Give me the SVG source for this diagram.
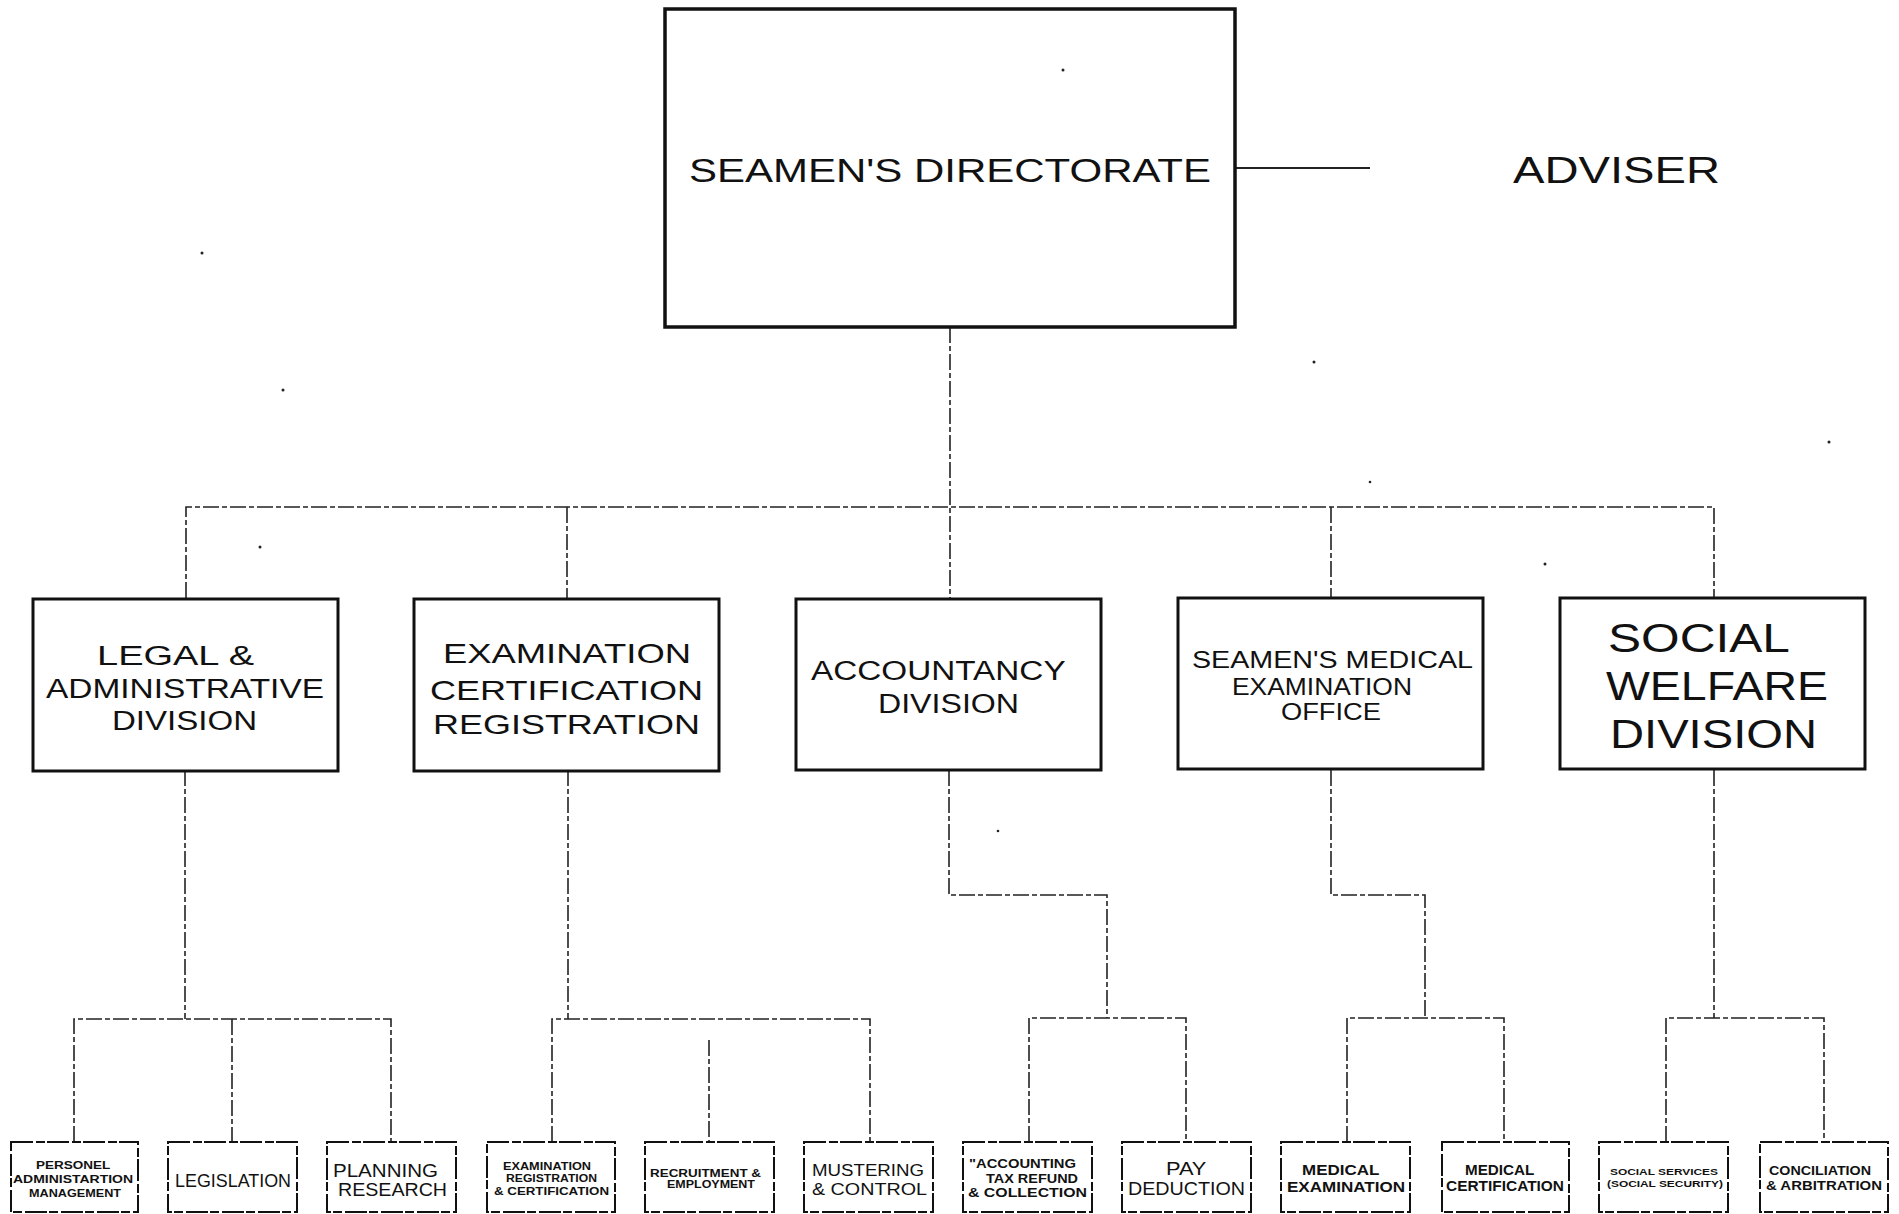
<svg xmlns="http://www.w3.org/2000/svg" width="1899" height="1214" viewBox="0 0 1899 1214">
<style>
.bg{fill:#fff}
.top{fill:none;stroke:#111;stroke-width:3.5}
.mid{fill:none;stroke:#111;stroke-width:3}
.bot{fill:none;stroke:#111;stroke-width:2;stroke-dasharray:22 3 9 2}
.con{fill:none;stroke:#222;stroke-width:1.6;stroke-dasharray:16 3 5 3}
.t{font-family:"Liberation Sans","DejaVu Sans",sans-serif;fill:#111;font-weight:400}
.tb{font-family:"Liberation Sans","DejaVu Sans",sans-serif;fill:#111;font-weight:700}
.dot{fill:#222}
</style>
<rect class="bg" x="0" y="0" width="1899" height="1214"/>

<g id="connectors">
<line class="con" x1="1235" y1="168" x2="1370" y2="168" style="stroke-dasharray:none;stroke-width:1.8"/>
<line class="con" x1="950" y1="327" x2="950" y2="598"/>
<polyline class="con" points="186,598 186,507 1714,507 1714,598"/>
<line class="con" x1="567" y1="507" x2="567" y2="598"/>
<line class="con" x1="1331" y1="507" x2="1331" y2="598"/>
<line class="con" x1="185" y1="770" x2="185" y2="1019"/>
<polyline class="con" points="74,1142 74,1019 391,1019 391,1142"/>
<line class="con" x1="232" y1="1019" x2="232" y2="1142"/>
<line class="con" x1="568" y1="770" x2="568" y2="1019"/>
<polyline class="con" points="552,1142 552,1019 870,1019 870,1142"/>
<line class="con" x1="709" y1="1040" x2="709" y2="1142"/>
<polyline class="con" points="949,770 949,895 1107,895 1107,1018"/>
<polyline class="con" points="1029,1142 1029,1018 1186,1018 1186,1142"/>
<polyline class="con" points="1331,770 1331,895 1425,895 1425,1018"/>
<polyline class="con" points="1347,1142 1347,1018 1504,1018 1504,1142"/>
<line class="con" x1="1714" y1="770" x2="1714" y2="1018"/>
<polyline class="con" points="1666,1142 1666,1018 1824,1018 1824,1142"/>
</g>

<g id="directorate">
<rect class="top" x="665" y="9" width="570" height="318"/>
<text class="t" x="689" y="182" font-size="33" textLength="522" lengthAdjust="spacingAndGlyphs">SEAMEN'S DIRECTORATE</text>
</g>
<g id="adviser">
<text class="t" x="1513" y="183" font-size="36" textLength="207" lengthAdjust="spacingAndGlyphs">ADVISER</text>
</g>

<g id="legal">
<rect class="mid" x="33" y="599" width="305" height="172"/>
<text class="t" font-size="27">
<tspan x="97" y="665" textLength="157" lengthAdjust="spacingAndGlyphs">LEGAL &amp;</tspan>
<tspan x="46" y="698" textLength="278" lengthAdjust="spacingAndGlyphs">ADMINISTRATIVE</tspan>
<tspan x="112" y="730" textLength="145" lengthAdjust="spacingAndGlyphs">DIVISION</tspan>
</text>
</g>
<g id="examination">
<rect class="mid" x="414" y="599" width="305" height="172"/>
<text class="t" font-size="28">
<tspan x="443" y="663" textLength="248" lengthAdjust="spacingAndGlyphs">EXAMINATION</tspan>
<tspan x="430" y="700" textLength="273" lengthAdjust="spacingAndGlyphs">CERTIFICATION</tspan>
<tspan x="433" y="734" textLength="267" lengthAdjust="spacingAndGlyphs">REGISTRATION</tspan>
</text>
</g>
<g id="accountancy">
<rect class="mid" x="796" y="599" width="305" height="171"/>
<text class="t" font-size="27">
<tspan x="811" y="680" textLength="254" lengthAdjust="spacingAndGlyphs">ACCOUNTANCY</tspan>
<tspan x="878" y="713" textLength="141" lengthAdjust="spacingAndGlyphs">DIVISION</tspan>
</text>
</g>
<g id="medical-office">
<rect class="mid" x="1178" y="598" width="305" height="171"/>
<text class="t" font-size="23">
<tspan x="1192" y="668" textLength="280" lengthAdjust="spacingAndGlyphs">SEAMEN'S MEDICAL</tspan>
<tspan x="1232" y="695" textLength="180" lengthAdjust="spacingAndGlyphs">EXAMINATION</tspan>
<tspan x="1281" y="720" textLength="100" lengthAdjust="spacingAndGlyphs">OFFICE</tspan>
</text>
</g>
<g id="social-welfare">
<rect class="mid" x="1560" y="598" width="305" height="171"/>
<text class="t" font-size="40">
<tspan x="1608" y="652" textLength="180" lengthAdjust="spacingAndGlyphs">SOCIAL</tspan>
<tspan x="1606" y="700" textLength="222" lengthAdjust="spacingAndGlyphs">WELFARE</tspan>
<tspan x="1610" y="748" textLength="207" lengthAdjust="spacingAndGlyphs">DIVISION</tspan>
</text>
</g>

<g id="personel">
<rect class="bot" x="11" y="1142" width="127" height="70"/>
<text class="tb" font-size="11">
<tspan x="36" y="1169" textLength="74" lengthAdjust="spacingAndGlyphs">PERSONEL</tspan>
<tspan x="13" y="1183" textLength="120" lengthAdjust="spacingAndGlyphs">ADMINISTARTION</tspan>
<tspan x="29" y="1197" textLength="92" lengthAdjust="spacingAndGlyphs">MANAGEMENT</tspan>
</text>
</g>
<g id="legislation">
<rect class="bot" x="168" y="1142" width="129" height="70"/>
<text class="t" font-size="19" x="175" y="1187" textLength="116" lengthAdjust="spacingAndGlyphs">LEGISLATION</text>
</g>
<g id="planning">
<rect class="bot" x="327" y="1142" width="129" height="70"/>
<text class="t" font-size="18">
<tspan x="333" y="1177" textLength="105" lengthAdjust="spacingAndGlyphs">PLANNING</tspan>
<tspan x="338" y="1196" textLength="109" lengthAdjust="spacingAndGlyphs">RESEARCH</tspan>
</text>
</g>
<g id="exam-registration">
<rect class="bot" x="487" y="1142" width="128" height="70"/>
<text class="tb" font-size="10">
<tspan x="503" y="1170" textLength="88" lengthAdjust="spacingAndGlyphs">EXAMINATION</tspan>
<tspan x="506" y="1182" textLength="91" lengthAdjust="spacingAndGlyphs">REGISTRATION</tspan>
<tspan x="494" y="1195" textLength="115" lengthAdjust="spacingAndGlyphs">&amp; CERTIFICATION</tspan>
</text>
</g>
<g id="recruitment">
<rect class="bot" x="645" y="1142" width="129" height="70"/>
<text class="tb" font-size="10">
<tspan x="650" y="1177" textLength="111" lengthAdjust="spacingAndGlyphs">RECRUITMENT &amp;</tspan>
<tspan x="667" y="1188" textLength="88" lengthAdjust="spacingAndGlyphs">EMPLOYMENT</tspan>
</text>
</g>
<g id="mustering">
<rect class="bot" x="804" y="1142" width="129" height="70"/>
<text class="t" font-size="16">
<tspan x="812" y="1176" textLength="112" lengthAdjust="spacingAndGlyphs">MUSTERING</tspan>
<tspan x="812" y="1195" textLength="115" lengthAdjust="spacingAndGlyphs">&amp; CONTROL</tspan>
</text>
</g>
<g id="accounting-tax">
<rect class="bot" x="963" y="1142" width="129" height="70"/>
<text class="tb" font-size="12">
<tspan x="969" y="1168" textLength="107" lengthAdjust="spacingAndGlyphs">"ACCOUNTING</tspan>
<tspan x="986" y="1183" textLength="92" lengthAdjust="spacingAndGlyphs">TAX REFUND</tspan>
<tspan x="968" y="1197" textLength="119" lengthAdjust="spacingAndGlyphs">&amp; COLLECTION</tspan>
</text>
</g>
<g id="pay-deduction">
<rect class="bot" x="1122" y="1142" width="129" height="70"/>
<text class="t" font-size="18">
<tspan x="1166" y="1175" textLength="40" lengthAdjust="spacingAndGlyphs">PAY</tspan>
<tspan x="1128" y="1195" textLength="117" lengthAdjust="spacingAndGlyphs">DEDUCTION</tspan>
</text>
</g>
<g id="medical-examination">
<rect class="bot" x="1281" y="1142" width="129" height="70"/>
<text class="tb" font-size="15">
<tspan x="1302" y="1175" textLength="77" lengthAdjust="spacingAndGlyphs">MEDICAL</tspan>
<tspan x="1287" y="1192" textLength="118" lengthAdjust="spacingAndGlyphs">EXAMINATION</tspan>
</text>
</g>
<g id="medical-certification">
<rect class="bot" x="1442" y="1142" width="127" height="70"/>
<text class="tb" font-size="14">
<tspan x="1465" y="1175" textLength="69" lengthAdjust="spacingAndGlyphs">MEDICAL</tspan>
<tspan x="1446" y="1191" textLength="118" lengthAdjust="spacingAndGlyphs">CERTIFICATION</tspan>
</text>
</g>
<g id="social-services">
<rect class="bot" x="1599" y="1142" width="129" height="70"/>
<text class="tb" font-size="9">
<tspan x="1610" y="1175" textLength="108" lengthAdjust="spacingAndGlyphs">SOCIAL SERVICES</tspan>
<tspan x="1607" y="1187" textLength="116" lengthAdjust="spacingAndGlyphs">(SOCIAL SECURITY)</tspan>
</text>
</g>
<g id="conciliation">
<rect class="bot" x="1760" y="1142" width="128" height="70"/>
<text class="tb" font-size="13">
<tspan x="1769" y="1175" textLength="102" lengthAdjust="spacingAndGlyphs">CONCILIATION</tspan>
<tspan x="1766" y="1190" textLength="116" lengthAdjust="spacingAndGlyphs">&amp; ARBITRATION</tspan>
</text>
</g>

<g id="specks">
<circle class="dot" cx="1063" cy="70" r="1.5"/>
<circle class="dot" cx="202" cy="253" r="1.5"/>
<circle class="dot" cx="283" cy="390" r="1.5"/>
<circle class="dot" cx="1314" cy="362" r="1.5"/>
<circle class="dot" cx="1829" cy="442" r="1.5"/>
<circle class="dot" cx="1370" cy="482" r="1.3"/>
<circle class="dot" cx="260" cy="547" r="1.5"/>
<circle class="dot" cx="1545" cy="564" r="1.5"/>
<circle class="dot" cx="998" cy="831" r="1.3"/>
</g>
</svg>
